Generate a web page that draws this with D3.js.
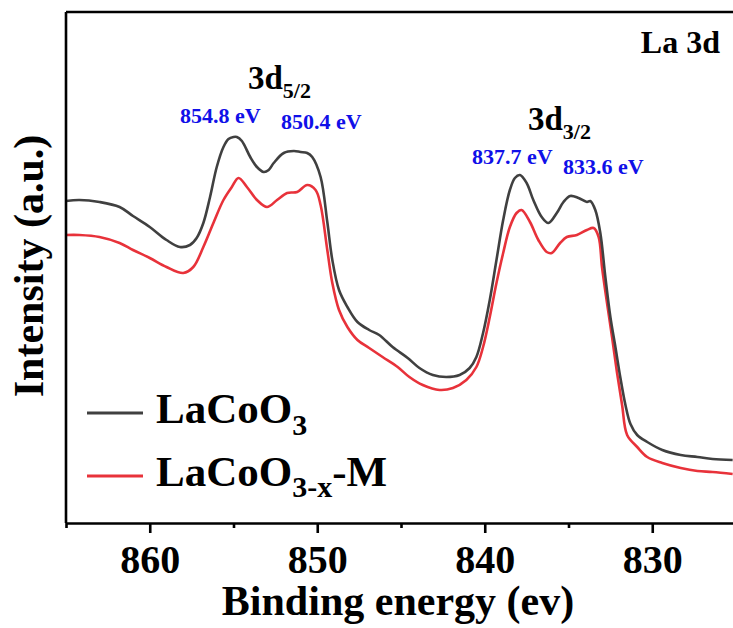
<!DOCTYPE html>
<html>
<head>
<meta charset="utf-8">
<script src="https://cdn.jsdelivr.net/npm/d3@7"></script>
<style>
  html, body { margin: 0; padding: 0; background: #fff; }
  svg { display: block; }
  text { font-family: "Liberation Serif", "Times New Roman", serif; font-weight: bold; }
</style>
</head>
<body>
<div class="box"></div>
<script>
// LaCoO3 (gray) — binding energy (eV) and intensity (a.u.)
const energyLaCoO3 = [865.0, 864.2, 863.0, 861.8, 861.0, 860.0, 859.0, 858.2, 857.6, 857.2, 856.8, 856.4, 856.0, 855.6, 855.3, 855.0, 854.8, 854.5, 854.0, 853.6, 853.2, 852.9, 852.6, 852.0, 851.4, 851.0, 850.6, 850.3, 849.8, 849.4, 849.1, 848.7, 848.2, 847.6, 846.9, 846.3, 845.5, 844.6, 843.9, 843.1, 842.3, 841.5, 840.9, 840.5, 840.1, 839.7, 839.3, 838.9, 838.5, 838.2, 837.9, 837.5, 837.1, 836.6, 836.2, 835.7, 835.3, 834.9, 834.4, 833.9, 833.7, 833.4, 833.1, 832.8, 832.5, 832.2, 831.9, 831.6, 831.3, 830.9, 830.3, 829.4, 828.3, 827.3, 826.4, 825.2];
const intensityLaCoO3 = [322, 323, 321, 316, 307, 296, 283, 276, 278, 285, 300, 326, 356, 376, 384, 386, 386, 382, 366, 356, 351, 353, 360, 370, 372, 371, 370, 366, 346, 301, 263, 233, 216, 201, 193, 188, 176, 165, 155, 148, 146, 148, 155, 166, 190, 223, 263, 303, 333, 345, 348, 340, 323, 306, 300, 310, 321, 327, 325, 321, 322, 313, 290, 246, 206, 176, 145, 118, 99, 88, 81, 73, 68, 66, 64, 63];

// LaCoO3-x-M (red)
const energyLaCoO3xM = [865.0, 864.2, 863.0, 861.8, 861.0, 860.0, 859.0, 858.0, 857.4, 856.8, 856.2, 855.6, 855.1, 854.7, 854.2, 853.6, 853.0, 852.4, 851.8, 851.2, 850.6, 850.1, 849.8, 849.4, 849.1, 848.7, 848.2, 847.6, 846.9, 846.1, 845.2, 844.5, 843.7, 842.7, 841.9, 841.1, 840.5, 840.1, 839.7, 839.3, 838.9, 838.5, 838.1, 837.8, 837.3, 836.8, 836.3, 836.0, 835.5, 835.1, 834.5, 833.9, 833.5, 833.2, 833.0, 832.7, 832.4, 832.1, 831.8, 831.5, 830.9, 830.3, 829.4, 828.3, 827.3, 826.4, 825.2];
const intensityLaCoO3xM = [288, 288, 286, 280, 273, 265, 256, 250, 256, 276, 300, 323, 336, 345, 336, 323, 316, 323, 330, 331, 338, 333, 318, 273, 240, 213, 196, 183, 175, 166, 156, 146, 138, 133, 135, 143, 156, 176, 206, 240, 270, 296, 310, 313, 301, 283, 271, 270, 280, 286, 288, 293, 295, 286, 256, 220, 186, 150, 118, 88, 76, 66, 60, 55, 52, 51, 49];

const majorTicks = [860, 850, 840, 830];
const minorTicks = [865, 855, 845, 835, 825];

const peakLabels = [
  { text: "854.8 eV", x: 180, y: 123 },
  { text: "850.4 eV", x: 281, y: 129 },
  { text: "837.7 eV", x: 472, y: 164 },
  { text: "833.6 eV", x: 563, y: 174 }
];

function zip (energy, intensity) {
  return energy.map(function (e, i) { return { e: e, v: intensity[i] }; });
}

function loadChart () {
  let margin = { top: 12, left: 66 };
  let width = 670, height = 511;

  let svg = d3.select('.box').append("svg")
    .attr("width", 733)
    .attr("height", 628);

  let g = svg.append("g")
    .attr("transform", "translate(" + margin.left + "," + margin.top + ")");

  let x = d3.scaleLinear().domain([865, 825]).range([0, width]);
  let y = d3.scaleLinear().domain([0, 511]).range([height, 0]);

  let line = d3.line()
    .x(function (d) { return x(d.e); })
    .y(function (d) { return y(d.v); })
    .curve(d3.curveCatmullRom.alpha(0.5));

  // spectra
  g.append("path")
    .datum(zip(energyLaCoO3xM, intensityLaCoO3xM))
    .attr("fill", "none")
    .attr("stroke", "#e8323a")
    .attr("stroke-width", 2.6)
    .attr("d", line);
  g.append("path")
    .datum(zip(energyLaCoO3, intensityLaCoO3))
    .attr("fill", "none")
    .attr("stroke", "#404040")
    .attr("stroke-width", 2.6)
    .attr("d", line);

  // frame (left + top), bottom axis with ticks
  g.append("line").attr("x1", 0).attr("x2", 0).attr("y1", 0).attr("y2", height)
    .attr("stroke", "#000").attr("stroke-width", 2.6);
  g.append("line").attr("x1", 0).attr("x2", width).attr("y1", 0).attr("y2", 0)
    .attr("stroke", "#000").attr("stroke-width", 2.6);

  let minorAxis = g.append("g").attr("transform", `translate(0, ${height})`)
    .call(d3.axisBottom(x).tickValues(minorTicks).tickSize(5).tickSizeOuter(0).tickFormat(""));
  minorAxis.selectAll("line").attr("stroke-width", 2.6);
  minorAxis.select(".domain").remove();

  let xAxis = g.append("g").attr("transform", `translate(0, ${height})`)
    .call(d3.axisBottom(x).tickValues(majorTicks).tickSize(10).tickSizeOuter(0).tickFormat(d3.format("d")));
  xAxis.select(".domain").attr("stroke-width", 2.6);
  xAxis.selectAll("line").attr("stroke-width", 2.6);
  xAxis.selectAll("text")
    .attr("y", 22)
    .attr("font-size", 40)
    .attr("font-family", null)
    .attr("fill", "#000");

  // axis titles
  svg.append("text")
    .attr("x", 398).attr("y", 615)
    .attr("text-anchor", "middle")
    .attr("font-size", 42)
    .text("Binding energy (ev)");
  svg.append("text")
    .attr("transform", "translate(43, 266) rotate(-90)")
    .attr("text-anchor", "middle")
    .attr("font-size", 42)
    .text("Intensity (a.u.)");

  // annotations
  svg.append("text")
    .attr("x", 720).attr("y", 53)
    .attr("text-anchor", "end")
    .attr("font-size", 32)
    .text("La 3d");

  let d52 = svg.append("text").attr("x", 248).attr("y", 89).attr("font-size", 33);
  d52.append("tspan").text("3d");
  d52.append("tspan").attr("font-size", 22).attr("dy", 9).text("5/2");

  let d32 = svg.append("text").attr("x", 528).attr("y", 130).attr("font-size", 33);
  d32.append("tspan").text("3d");
  d32.append("tspan").attr("font-size", 22).attr("dy", 9).text("3/2");

  svg.selectAll(".peak")
    .data(peakLabels)
    .enter().append("text")
    .attr("class", "peak")
    .attr("x", function (d) { return d.x; })
    .attr("y", function (d) { return d.y; })
    .attr("font-size", 22)
    .attr("fill", "#1010e8")
    .text(function (d) { return d.text; });

  // legend
  let legend = svg.append("g");
  legend.append("line").attr("x1", 87).attr("x2", 143).attr("y1", 413).attr("y2", 413)
    .attr("stroke", "#404040").attr("stroke-width", 3);
  legend.append("line").attr("x1", 87).attr("x2", 143).attr("y1", 476).attr("y2", 476)
    .attr("stroke", "#e8323a").attr("stroke-width", 3);

  let l1 = legend.append("text").attr("x", 156).attr("y", 423).attr("font-size", 43);
  l1.append("tspan").text("LaCoO");
  l1.append("tspan").attr("font-size", 30).attr("dy", 12).text("3");

  let l2 = legend.append("text").attr("x", 156).attr("y", 486).attr("font-size", 43);
  l2.append("tspan").text("LaCoO");
  l2.append("tspan").attr("font-size", 30).attr("dy", 11).text("3-x");
  l2.append("tspan").attr("dy", -11).text("-M");
}

loadChart();
</script>
</body>
</html>
